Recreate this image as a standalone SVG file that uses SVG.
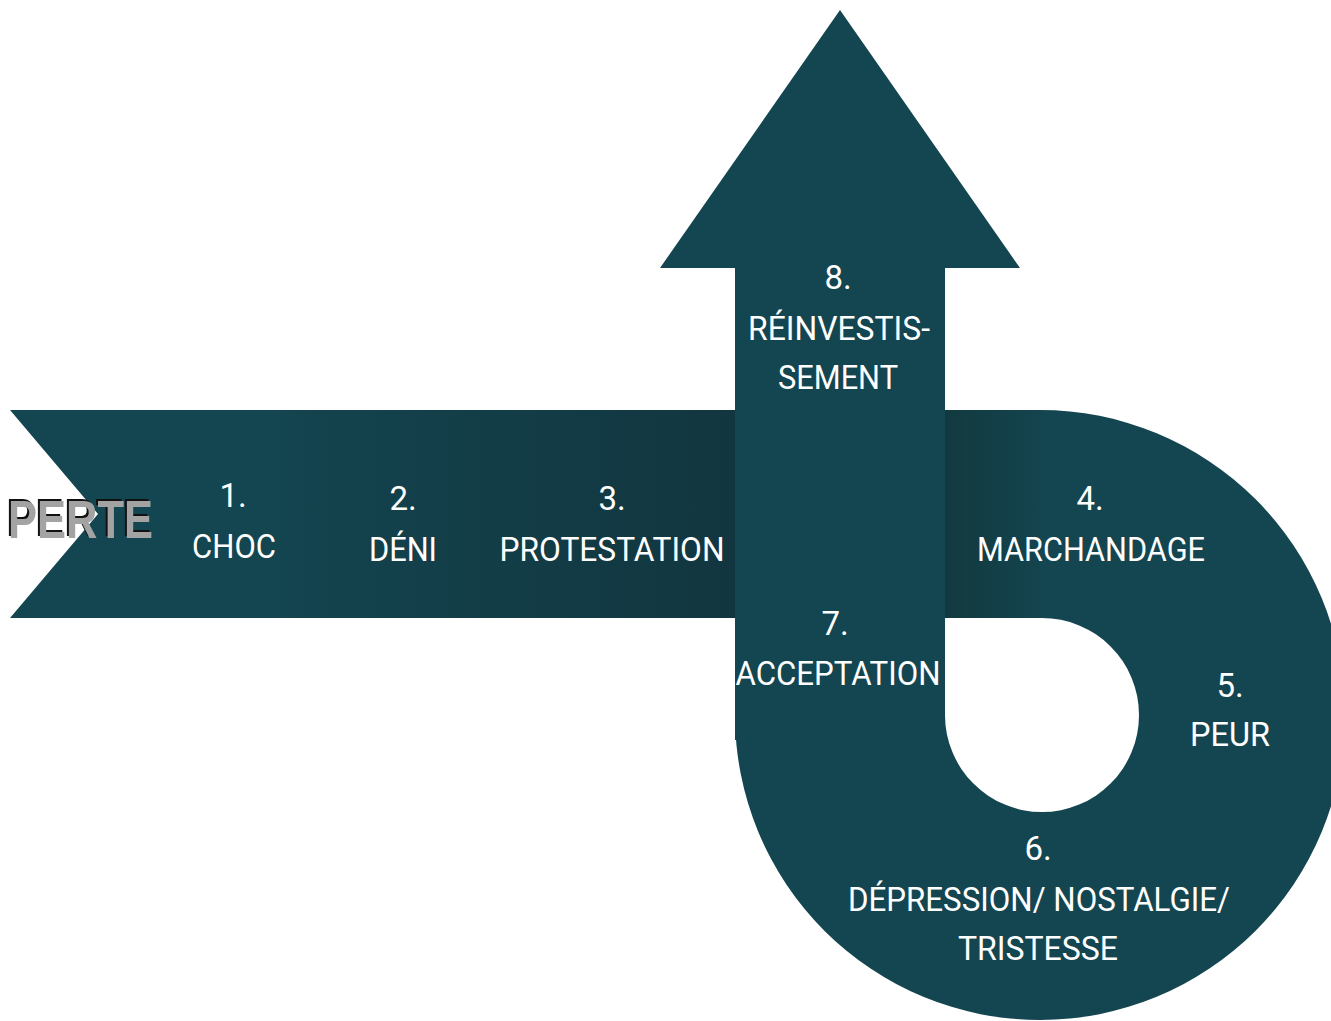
<svg xmlns="http://www.w3.org/2000/svg" width="1331" height="1021" viewBox="0 0 1331 1021">
<defs>
<linearGradient id="gBand" x1="10" y1="0" x2="735" y2="0" gradientUnits="userSpaceOnUse">
<stop offset="0" stop-color="#144651"/>
<stop offset="0.37" stop-color="#144651"/>
<stop offset="0.4" stop-color="#13434e"/>
<stop offset="1" stop-color="#12363f"/>
</linearGradient>
<linearGradient id="gRight" x1="945" y1="0" x2="1060" y2="0" gradientUnits="userSpaceOnUse">
<stop offset="0" stop-color="#12393f"/>
<stop offset="1" stop-color="#144651"/>
</linearGradient>
<style>
.sh{fill:#144651}
.t{font-family:Roboto,"Liberation Sans",sans-serif;font-size:33px;fill:#ffffff;text-anchor:middle}
.perte{font-family:"Liberation Sans",Arial,sans-serif;font-weight:bold;font-size:54px}
</style>
</defs>
<rect width="1331" height="1021" fill="#ffffff"/>
<g id="band">
<path d="M10,410 L735,410 L735,618 L10,618 L98,514 Z" fill="url(#gBand)"/>
</g>
<g id="loop">
<path class="sh" fill-rule="evenodd" d="M735,500 L735,715 A305,305 0 0 0 1345,715 A305,305 0 0 0 1040,410 L945,410 L945,500 Z M945,618 L1042,618 A97,97 0 0 1 1042,812 A97,97 0 0 1 945,715 Z"/>
<path d="M945,410 L1040,410 L1040,618 L945,618 Z" fill="url(#gRight)"/>
</g>
<g id="arrow">
<path class="sh" d="M735,740 L735,268 L660,268 L840,10 L1020,268 L945,268 L945,740 Z"/>
</g>
<g id="perte">
<text class="perte" x="6" y="536" fill="#111111" textLength="145" lengthAdjust="spacingAndGlyphs">PERTE</text>
<text class="perte" x="8" y="538" fill="#a3a3a3" textLength="145" lengthAdjust="spacingAndGlyphs">PERTE</text>
</g>
<g id="s1"><text class="t" x="233" y="507">1.</text><text class="t" x="234" y="558" textLength="84" lengthAdjust="spacingAndGlyphs">CHOC</text></g>
<g id="s2"><text class="t" x="403" y="510">2.</text><text class="t" x="403" y="561" textLength="68" lengthAdjust="spacingAndGlyphs">DÉNI</text></g>
<g id="s3"><text class="t" x="612" y="510">3.</text><text class="t" x="612" y="561" textLength="225" lengthAdjust="spacingAndGlyphs">PROTESTATION</text></g>
<g id="s4"><text class="t" x="1090" y="510">4.</text><text class="t" x="1091" y="561" textLength="228" lengthAdjust="spacingAndGlyphs">MARCHANDAGE</text></g>
<g id="s5"><text class="t" x="1230" y="697">5.</text><text class="t" x="1230" y="746" textLength="80" lengthAdjust="spacingAndGlyphs">PEUR</text></g>
<g id="s6"><text class="t" x="1038" y="860">6.</text><text class="t" x="1039" y="911" textLength="382" lengthAdjust="spacingAndGlyphs">DÉPRESSION/ NOSTALGIE/</text><text class="t" x="1038" y="960" textLength="160" lengthAdjust="spacingAndGlyphs">TRISTESSE</text></g>
<g id="s7"><text class="t" x="835" y="635">7.</text><text class="t" x="838" y="685" textLength="205" lengthAdjust="spacingAndGlyphs">ACCEPTATION</text></g>
<g id="s8"><text class="t" x="838" y="289">8.</text><text class="t" x="839" y="340" textLength="182" lengthAdjust="spacingAndGlyphs">RÉINVESTIS-</text><text class="t" x="838" y="389" textLength="120" lengthAdjust="spacingAndGlyphs">SEMENT</text></g>
<g id="connectors"></g>
</svg>
